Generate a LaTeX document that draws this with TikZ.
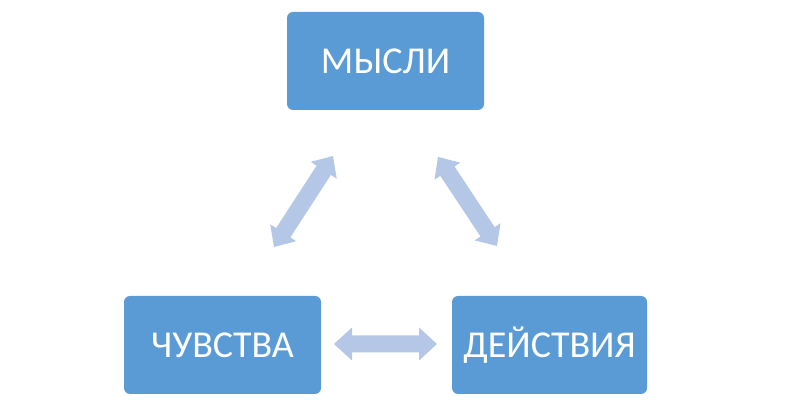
\documentclass[tikz,border=0pt]{standalone}
\usepackage{fontspec}
\setmainfont{Carlito}
\usetikzlibrary{calc}
\definecolor{boxblue}{HTML}{5B9BD5}
\definecolor{arrowblue}{HTML}{B4C7E7}
\tikzset{
  box/.style={fill=boxblue, rounded corners=6pt, text=white, minimum width=197pt, minimum height=98pt, inner sep=0pt, font=\fontsize{38}{40}\selectfont},
  blockarrow/.style={fill=arrowblue}
}
% #1,#2 end points; #3 head length; #4 head half width; #5 shaft half width
\newcommand\dblarrow[5]{%
  \path let \p1=($(#2)-(#1)$) in \pgfextra{%
    \pgfmathsetmacro\myang{atan2(\y1,\x1)}%
    \pgfmathsetmacro\mylen{veclen(\x1,\y1)}%
    \global\let\gang\myang\global\let\glen\mylen};
  \begin{scope}[shift={(#1)},rotate=\gang]
    \fill[blockarrow] (0,0) -- (#3,#4) -- (#3,#5) -- (\glen-#3,#5) -- (\glen-#3,#4)
      -- (\glen,0) -- (\glen-#3,-#4) -- (\glen-#3,-#5) -- (#3,-#5) -- (#3,-#4) -- cycle;
  \end{scope}}
\begin{document}
\begin{tikzpicture}[x=1pt,y=1pt]
\useasboundingbox (0,0) rectangle (789,403);
\node[box] (mysli) at (385.5,342) {МЫСЛИ};
\node[box] (chuvstva) at (222.5,58) {ЧУВСТВА};
\node[box, minimum width=195pt] (deistvia) at (549.5,58) {ДЕЙСТВИЯ};
\coordinate (l1) at (274,156);
\coordinate (l2) at (333,247);
\coordinate (r1) at (438,246);
\coordinate (r2) at (497,157);
\coordinate (h1) at (334,59);
\coordinate (h2) at (437,59);
\dblarrow{l1}{l2}{17}{15.5}{8.5}
\dblarrow{r1}{r2}{17}{15.5}{8.5}
\dblarrow{h1}{h2}{18}{16.5}{8.5}
\end{tikzpicture}
\end{document}
